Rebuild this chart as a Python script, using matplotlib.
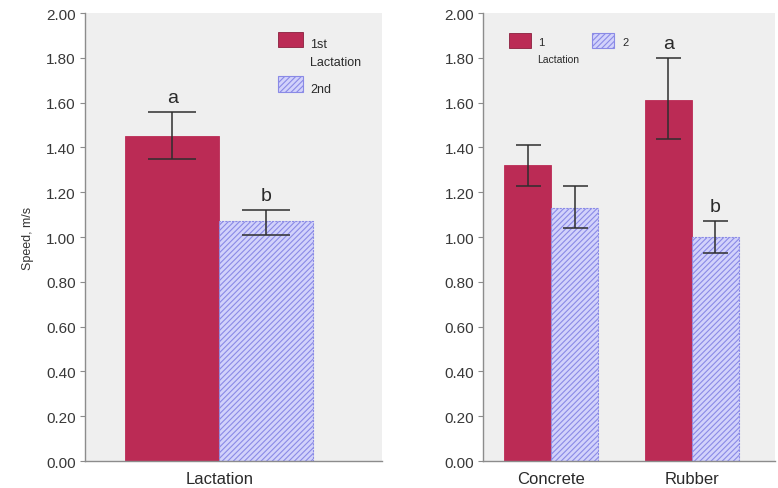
import matplotlib
matplotlib.use("Agg")
import matplotlib.pyplot as plt
from matplotlib.patches import Rectangle
import numpy as np

plt.rcParams['font.family'] = ['Liberation Sans', 'DejaVu Sans']
plt.rcParams['hatch.linewidth'] = 0.8

# Left panel: by lactation
left_cats = ["Lactation"]
left_first = [1.45]
left_first_lo = [1.35]
left_first_hi = [1.56]
left_second = [1.07]
left_second_lo = [1.01]
left_second_hi = [1.12]
left_letters_first = ["a"]
left_letters_second = ["b"]

# Right panel: by floor
right_cats = ["Concrete", "Rubber"]
right_first = [1.32, 1.61]
right_first_lo = [1.23, 1.44]
right_first_hi = [1.41, 1.80]
right_second = [1.13, 1.00]
right_second_lo = [1.04, 0.93]
right_second_hi = [1.23, 1.07]
right_letters_first = ["", "a"]
right_letters_second = ["", "b"]

yticks = [0.0, 0.2, 0.4, 0.6, 0.8, 1.0, 1.2, 1.4, 1.6, 1.8, 2.0]

RED = '#bb2b55'
BLUE_FACE = '#d2d2fb'
BLUE_EDGE = '#8a8ae6'
BG = '#efefef'
ERR = '#2e2e2e'
TXT = '#2a2a2a'

fig = plt.figure(figsize=(7.78, 4.89), dpi=100)
axL = fig.add_axes([0.109, 0.0552, 0.382, 0.916])
axR = fig.add_axes([0.621, 0.0552, 0.375, 0.916])


def style(ax):
    ax.set_facecolor(BG)
    ax.set_ylim(0, 2.0)
    ax.set_yticks(yticks)
    ax.set_yticklabels([f"{v:.2f}" for v in yticks], fontsize=11, color='#383838')
    for s in ['top', 'right']:
        ax.spines[s].set_visible(False)
    for s in ['left', 'bottom']:
        ax.spines[s].set_color('#8c8c8c')
        ax.spines[s].set_linewidth(1.0)
    ax.tick_params(axis='y', direction='out', length=3.5, color='#8c8c8c', pad=3)
    ax.tick_params(axis='x', length=0, labelsize=12, labelcolor=TXT, pad=7)


def draw(ax, cats, centers, first, flo, fhi, second, slo, shi, lf, ls, cap):
    centers = np.array(centers, dtype=float)
    ax.bar(centers - 0.5, first, width=1.0, color=RED, edgecolor=RED, linewidth=0.6, zorder=2)
    ax.bar(centers + 0.5, second, width=1.0, color=BLUE_FACE, edgecolor=BLUE_EDGE,
           hatch='//////', linewidth=0.8, linestyle=(0, (2, 1)), zorder=2)
    for i in range(len(cats)):
        for x, v, lo, hi, lt in [(centers[i] - 0.5, first[i], flo[i], fhi[i], lf[i]),
                                 (centers[i] + 0.5, second[i], slo[i], shi[i], ls[i])]:
            ax.errorbar([x], [v], yerr=[[v - lo], [hi - v]], fmt='none', ecolor=ERR,
                        elinewidth=1.1, capsize=cap, capthick=1.1, zorder=3)
            if lt:
                ax.text(x, hi + 0.045, lt, ha='center', va='baseline', fontsize=14, color=TXT)
    ax.set_xticks(centers)
    ax.set_xticklabels(cats)


def legend_patch(ax, x, y0, w, h, first):
    if first:
        r = Rectangle((x, y0), w, h, transform=ax.transAxes, facecolor=RED,
                      edgecolor='#8a1f3d', linewidth=0.6, zorder=5)
    else:
        r = Rectangle((x, y0), w, h, transform=ax.transAxes, facecolor=BLUE_FACE,
                      edgecolor=BLUE_EDGE, hatch='//////', linewidth=0.8, zorder=5)
    ax.add_patch(r)


style(axL)
draw(axL, left_cats, [0.0], left_first, left_first_lo, left_first_hi,
     left_second, left_second_lo, left_second_hi, left_letters_first, left_letters_second, 17)
axL.set_xlim(-1.43, 1.73)
axL.set_ylabel("Speed, m/s", fontsize=9, color='#333333')
axL.yaxis.set_label_coords(-0.172, 0.5)
# left legend
legend_patch(axL, 0.650, 0.924, 0.084, 0.034, True)
axL.text(0.758, 0.932, "1st", transform=axL.transAxes, fontsize=9, color=TXT, va='center', ha='left')
axL.text(0.758, 0.890, "Lactation", transform=axL.transAxes, fontsize=9, color=TXT, va='center', ha='left')
legend_patch(axL, 0.650, 0.824, 0.084, 0.035, False)
axL.text(0.758, 0.831, "2nd", transform=axL.transAxes, fontsize=9, color=TXT, va='center', ha='left')

style(axR)
draw(axR, right_cats, [0.0, 3.0], right_first, right_first_lo, right_first_hi,
     right_second, right_second_lo, right_second_hi, right_letters_first, right_letters_second, 9)
axR.set_xlim(-1.45, 4.77)
# right legend
legend_patch(axR, 0.089, 0.922, 0.075, 0.033, True)
axR.text(0.188, 0.935, "1", transform=axR.transAxes, fontsize=8, color=TXT, va='center', ha='left')
axR.text(0.185, 0.897, "Lactation", transform=axR.transAxes, fontsize=7.5, color=TXT, va='center', ha='left')
legend_patch(axR, 0.373, 0.922, 0.075, 0.033, False)
axR.text(0.476, 0.935, "2", transform=axR.transAxes, fontsize=8, color=TXT, va='center', ha='left')

fig.savefig("out.png", dpi=100)
